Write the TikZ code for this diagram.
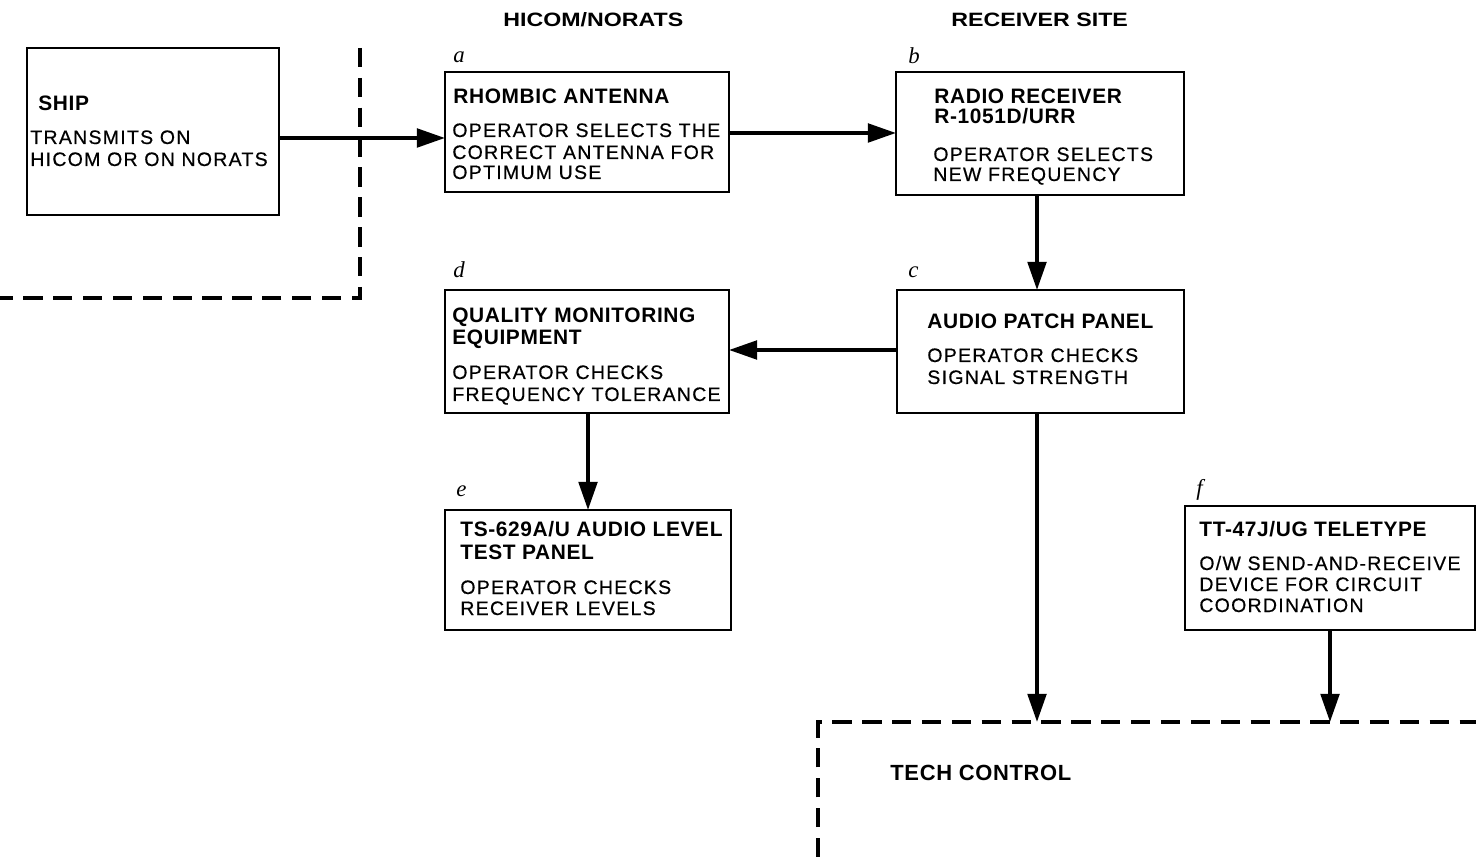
\documentclass[tikz,border=0pt]{standalone}
\usepackage{fontspec}
\setmainfont{Liberation Sans}
\newfontfamily\bodyf[LetterSpace=6.5,FakeBold=0.5]{Liberation Sans}
\newfontfamily\titlef[LetterSpace=3]{Liberation Sans}
\newfontfamily\headf[FakeStretch=1.2]{Liberation Sans}
\newfontfamily\labf{Liberation Serif}
\usetikzlibrary{arrows.meta}
\tikzset{
  box/.style={draw, line width=1.4pt, anchor=north west, inner sep=0pt, outer sep=0pt},
  arr/.style={line width=2.2pt, -{Triangle[length=16pt,width=10.5pt]}},
  zone/.style={line width=2.2pt, dash pattern=on 11pt off 6pt},
  body/.style={anchor=base west, inner sep=0pt, font=\bodyf\fontsize{11.1}{13}\selectfont},
  ttl/.style={anchor=base west, inner sep=0pt, font=\titlef\bfseries\fontsize{11.9}{13}\selectfont},
  hdr/.style={anchor=base west, inner sep=0pt, font=\headf\bfseries\fontsize{11}{13}\selectfont},
  lab/.style={anchor=base west, inner sep=0pt, font=\labf\itshape\fontsize{13}{15}\selectfont}
}
\begin{document}
\begin{tikzpicture}[x=0.02cm, y=-0.02cm]
\useasboundingbox (0,0) rectangle (1476,857);
% headers
\node[hdr] (h1) at (503,27) {HICOM/NORATS};
\node[hdr] (h2) at (951,27) {RECEIVER SITE};
% ship zone
\draw[zone] (360,48) -- (360,298) -- (0,298);
\node[box, minimum width=5.04cm, minimum height=3.34cm] (ship) at (27,48) {};
\node[ttl] (ship-t) at (38,111) {SHIP};
\node[body] (ship-1) at (30,144) {TRANSMITS ON};
\node[body] (ship-2) at (30,166) {HICOM OR ON NORATS};
% box a
\node[lab] (la) at (453,63) {a};
\node[box, minimum width=5.68cm, minimum height=2.4cm] (a) at (445,72) {};
\node[ttl] (a-t) at (453,104) {RHOMBIC ANTENNA};
\node[body] (a-1) at (452,137) {OPERATOR SELECTS THE};
\node[body] (a-2) at (452,159) {CORRECT ANTENNA FOR};
\node[body] (a-3) at (452,179) {OPTIMUM USE};
% box b
\node[lab] (lb) at (908,64) {b};
\node[box, minimum width=5.76cm, minimum height=2.46cm] (b) at (896,72) {};
\node[ttl] (b-t) at (934,104) {RADIO RECEIVER};
\node[ttl] (b-t2) at (934,124) {R-1051D/URR};
\node[body] (b-1) at (933,161) {OPERATOR SELECTS};
\node[body] (b-2) at (933,181) {NEW FREQUENCY};
% box c
\node[lab] (lc) at (908,278) {c};
\node[box, minimum width=5.74cm, minimum height=2.46cm] (c) at (897,290) {};
\node[ttl] (c-t) at (927,329) {AUDIO PATCH PANEL};
\node[body] (c-1) at (927,362) {OPERATOR CHECKS};
\node[body] (c-2) at (927,384) {SIGNAL STRENGTH};
% box d
\node[lab] (ld) at (453,278) {d};
\node[box, minimum width=5.68cm, minimum height=2.46cm] (d) at (445,290) {};
\node[ttl] (d-t) at (452,323) {QUALITY MONITORING};
\node[ttl] (d-t2) at (452,345) {EQUIPMENT};
\node[body] (d-1) at (452,379) {OPERATOR CHECKS};
\node[body] (d-2) at (452,401) {FREQUENCY TOLERANCE};
% box e
\node[lab] (le) at (456,497) {e};
\node[box, minimum width=5.72cm, minimum height=2.4cm] (e) at (445,510) {};
\node[ttl] (e-t) at (460,537) {TS-629A/U AUDIO LEVEL};
\node[ttl] (e-t2) at (460,560) {TEST PANEL};
\node[body] (e-1) at (460,594) {OPERATOR CHECKS};
\node[body] (e-2) at (460,615) {RECEIVER LEVELS};
% box f
\node[lab] (lf) at (1196,496) {f};
\node[box, minimum width=5.8cm, minimum height=2.48cm] (f) at (1185,506) {};
\node[ttl] (f-t) at (1199,537) {TT-47J/UG TELETYPE};
\node[body] (f-1) at (1199,570) {O/W SEND-AND-RECEIVE};
\node[body] (f-2) at (1199,591) {DEVICE FOR CIRCUIT};
\node[body] (f-3) at (1199,612) {COORDINATION};
% tech control zone
\coordinate (tc) at (818,722);
\draw[zone] (818,857) -- (tc) -- (1476,722);
\node[ttl, font=\titlef\bfseries\fontsize{12.5}{14}\selectfont] (tc-t) at (890,780) {TECH CONTROL};
% connectors
\draw[arr] (ship.east |- 0,138) -- (a.west |- 0,138);
\draw[arr] (a.east |- 0,133) -- (b.west |- 0,133);
\draw[arr] (b.south -| 1037,0) -- (c.north -| 1037,0);
\draw[arr] (c.west |- 0,350) -- (d.east |- 0,350);
\draw[arr] (d.south -| 588,0) -- (e.north -| 588,0);
\draw[arr] (c.south -| 1037,0) -- (tc -| 1037,0);
\draw[arr] (f.south -| 1330,0) -- (tc -| 1330,0);
\end{tikzpicture}
\end{document}
